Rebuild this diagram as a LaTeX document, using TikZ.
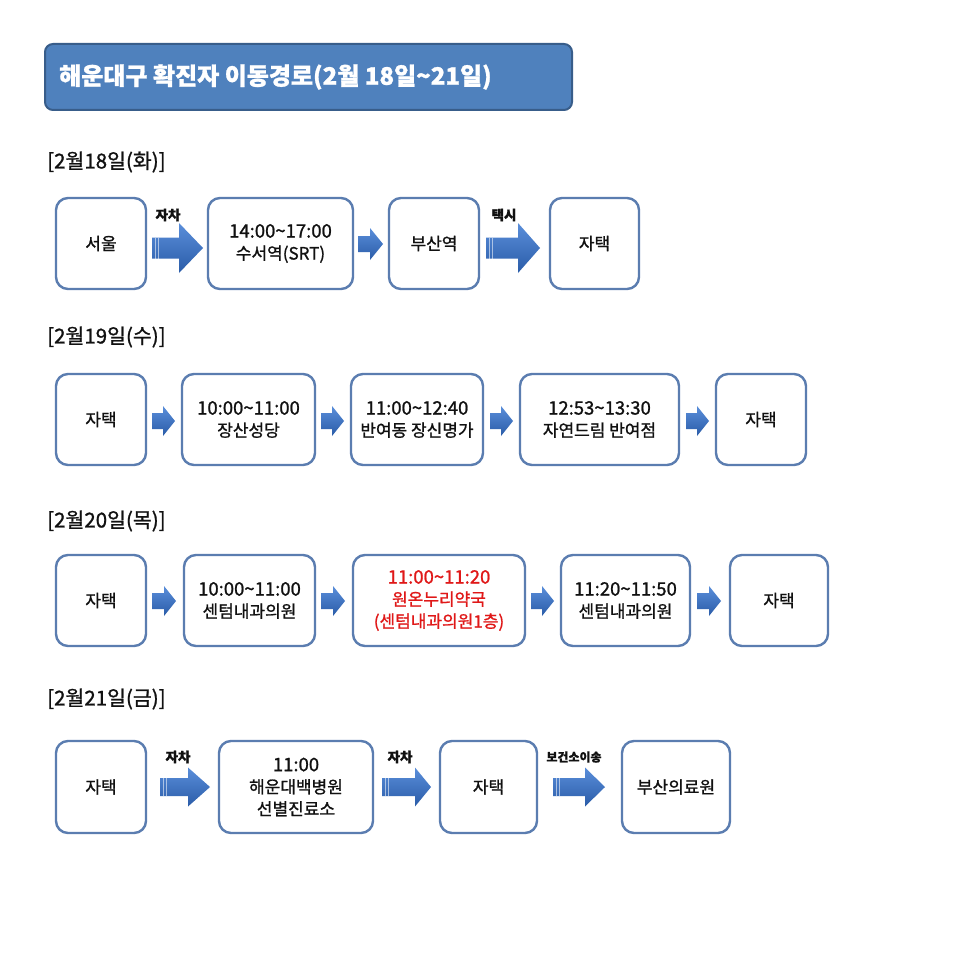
\documentclass[tikz,border=0pt]{standalone}
\usepackage{fontspec}
\setmainfont{Noto Sans CJK KR}[FakeBold=1.1]
\definecolor{titlefill}{HTML}{4F81BD}
\definecolor{titleline}{HTML}{385D8A}
\definecolor{boxline}{HTML}{5B7DB0}
\definecolor{arrtop}{HTML}{5A8EDA}
\definecolor{arrbot}{HTML}{2A5CA8}
\definecolor{txt}{HTML}{111111}
\definecolor{redtxt}{HTML}{E01818}
\tikzset{
  stopbox/.style={draw=boxline, line width=2.4pt, rounded corners=12pt, fill=white,
    align=center, text=txt, inner sep=0pt, font=\fontsize{17}{22}\selectfont},
  hdr/.style={anchor=west, text=txt, inner sep=0pt, font=\fontsize{20.5}{22}\selectfont},
  arrlbl/.style={text=txt, inner sep=0pt, font=\fontsize{13.5}{15}\selectfont\bfseries},
}
\newcommand{\dg}[1]{{\fontsize{18.5}{22}\selectfont #1}}
% box: name, x1, x2, y1, y2, text
\newcommand{\stopnode}[6]{\node[stopbox, minimum width={#3-#2}, minimum height={#5-#4}] (#1) at ({(#2+#3)/2},{(#4+#5)/2}) {#6};}
% block arrow: x1, xhead, xtip, yc, body half, head half
\newcommand{\barr}[6]{%
  \shade[top color=arrtop, bottom color=arrbot]
    (#1,#4-#5) -- (#2,#4-#5) -- (#2,#4-#6) -- (#3,#4) -- (#2,#4+#6) -- (#2,#4+#5) -- (#1,#4+#5) -- cycle;}
\newcommand{\stripes}[3]{%
  \draw[white, opacity=0.55, line width=0.8pt] (#1+3,#2-#3) -- (#1+3,#2+#3) (#1+6,#2-#3) -- (#1+6,#2+#3);}
\begin{document}
\begin{tikzpicture}[x=1pt,y=-1pt]
\useasboundingbox (0,0) rectangle (960,960);
\fill[white] (0,0) rectangle (960,960);
% title
\node[draw=titleline, line width=2pt, fill=titlefill, rounded corners=8pt,
  minimum width=527pt, minimum height=66pt, inner sep=0pt] (title) at (308.5,77) {};
\node[anchor=west, text=white, inner sep=0pt, font=\fontsize{24}{26}\selectfont\bfseries] (titletxt) at (59,77) {해운대구 확진자 이동경로(2월 18일\textasciitilde21일)};

% headers
\node[hdr] (h1) at (47,162) {[2월18일(화)]};
\node[hdr] (h2) at (47,337) {[2월19일(수)]};
\node[hdr] (h3) at (47,521) {[2월20일(목)]};
\node[hdr] (h4) at (47,699) {[2월21일(금)]};

% row 1
\stopnode{a1}{56}{146}{198}{289}{서울}
\stopnode{a2}{208}{353}{198}{289}{\dg{14:00\textasciitilde17:00}\\수서역(SRT)}
\stopnode{a3}{389}{479}{198}{289}{부산역}
\stopnode{a4}{550}{639}{198}{289}{자택}
\barr{152}{179}{203}{248}{10.5}{25}\stripes{152}{248}{10.5}
\barr{358}{370}{383}{244}{8}{16}
\barr{486}{518}{540}{248}{10.5}{25}\stripes{486}{248}{10.5}
\node[arrlbl] (l1) at (168,215) {자차};
\node[arrlbl] (l2) at (504,215) {택시};

% row 2
\stopnode{b1}{56}{146}{374}{465}{자택}
\stopnode{b2}{182}{315}{374}{465}{\dg{10:00\textasciitilde11:00}\\장산성당}
\stopnode{b3}{351}{483}{374}{465}{\dg{11:00\textasciitilde12:40}\\반여동 장신명가}
\stopnode{b4}{520}{679}{374}{465}{\dg{12:53\textasciitilde13:30}\\자연드림 반여점}
\stopnode{b5}{716}{806}{374}{465}{자택}
\barr{152}{163}{175}{421}{8}{15}
\barr{321}{332}{344}{421}{8}{15}
\barr{490}{501}{513}{421}{8}{15}
\barr{686}{697}{709}{421}{8}{15}

% row 3
\stopnode{c1}{56}{146}{555}{646}{자택}
\stopnode{c2}{184}{315}{555}{646}{\dg{10:00\textasciitilde11:00}\\센텀내과의원}
\stopnode{c3}{353}{525}{555}{646}{\textcolor{redtxt}{\dg{11:00\textasciitilde11:20}}\\\textcolor{redtxt}{원온누리약국}\\\textcolor{redtxt}{(센텀내과의원1층)}}
\stopnode{c4}{561}{690}{555}{646}{\dg{11:20\textasciitilde11:50}\\센텀내과의원}
\stopnode{c5}{730}{828}{555}{646}{자택}
\barr{152}{164}{176}{601}{8}{15}
\barr{321}{333}{345}{601}{8}{15}
\barr{531}{542}{554}{601}{8}{15}
\barr{697}{709}{721}{601}{8}{15}

% row 4
\stopnode{d1}{56}{146}{741}{833}{자택}
\stopnode{d2}{219}{373}{741}{833}{\dg{11:00}\\해운대백병원\\선별진료소}
\stopnode{d3}{440}{537}{741}{833}{자택}
\stopnode{d4}{622}{730}{741}{833}{부산의료원}
\barr{160}{188}{210}{787}{9}{19.5}\stripes{160}{787}{9}
\barr{382}{415}{431}{787}{9}{19.5}\stripes{382}{787}{9}
\barr{553}{585}{605}{787}{9}{19.5}\stripes{553}{787}{9}
\node[arrlbl] (l3) at (178,757) {자차};
\node[arrlbl] (l4) at (400,757) {자차};
\node[arrlbl, font=\fontsize{12}{14}\selectfont\bfseries] (l5) at (574,757) {보건소이송};
\end{tikzpicture}
\end{document}
